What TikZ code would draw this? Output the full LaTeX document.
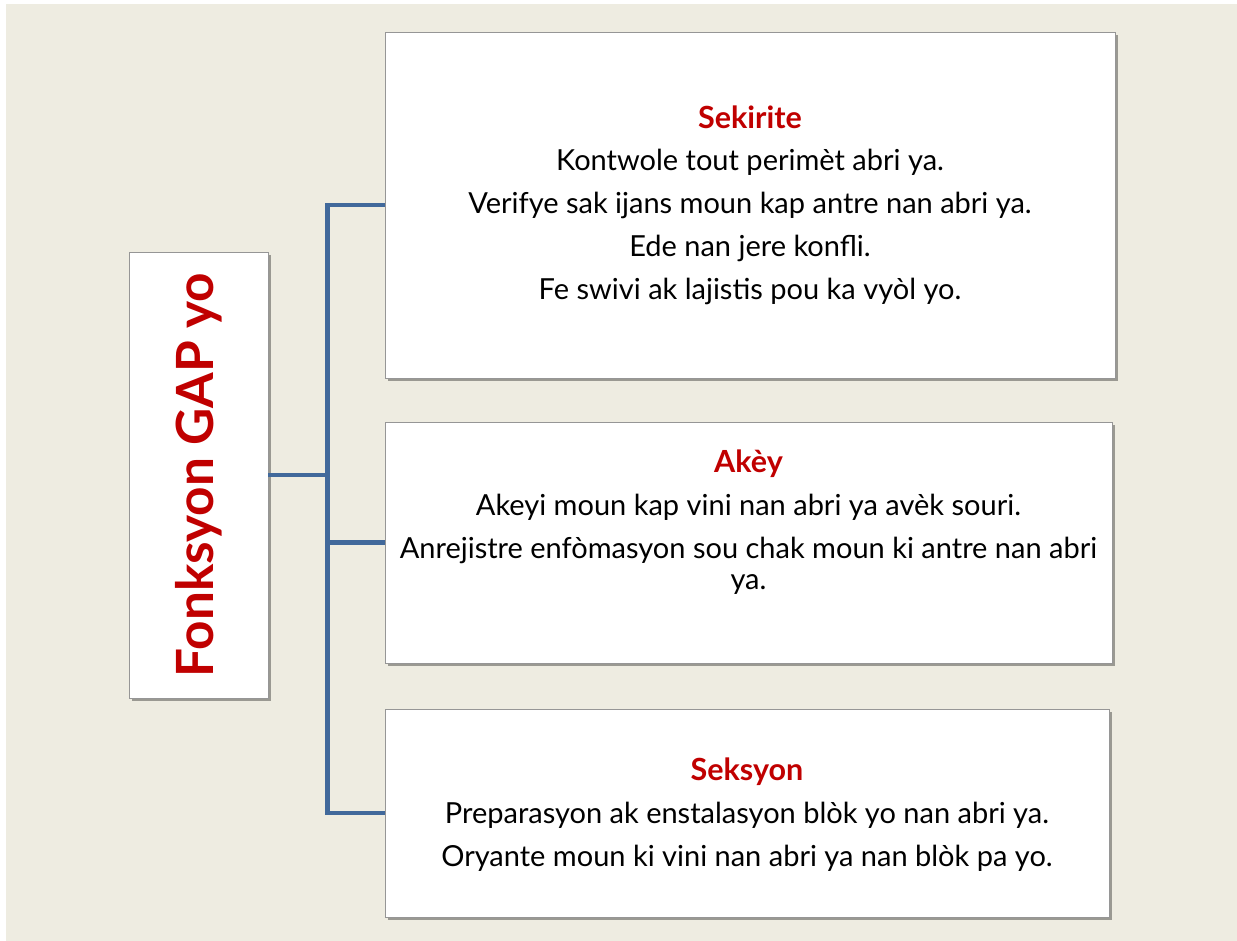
\documentclass[tikz,border=0pt]{standalone}
\usepackage{fontspec}
\setmainfont{Lato}
\usetikzlibrary{shadows}

\definecolor{paper}{RGB}{238,236,225}
\definecolor{linkblue}{RGB}{65,105,155}
\definecolor{headred}{RGB}{192,0,0}
\definecolor{boxline}{RGB}{150,150,150}

\tikzset{
  card/.style={draw=boxline, fill=white, line width=0.8pt, inner sep=0pt,
    drop shadow={shadow xshift=2.5pt, shadow yshift=-3pt, opacity=0.35, fill=black}},
  link/.style={draw=linkblue, line width=4.5pt},
  cardtext/.style={align=center, anchor=base, inner sep=0pt,
    font=\fontsize{29}{31}\selectfont},
}
\newcommand{\head}[1]{\textcolor{headred}{\fontsize{30.5}{31}\selectfont\bfseries #1}}

\begin{document}
\begin{tikzpicture}[x=1pt,y=-1pt]
  % page and backdrop
  \fill[white] (0,0) rectangle (1237,941);
  \fill[paper] (6,4) rectangle (1237,941);
  \useasboundingbox (0,0) rectangle (1237,941);

  % boxes
  \node[card, minimum width=139pt, minimum height=446pt] (gap) at (198.5,475) {};
  \node[card, minimum width=730pt, minimum height=346pt] (sekirite) at (750,205) {};
  \node[card, minimum width=727pt, minimum height=241pt] (akey) at (748.5,542.5) {};
  \node[card, minimum width=724pt, minimum height=208pt] (seksyon) at (747,813) {};

  % tree lines
  \draw[link] (gap.east) -- ++(59,0) coordinate (spine);
  \draw[link] (sekirite.west) -| (spine) |- (seksyon.west);
  \draw[link] (spine) |- (akey.west);

  % texts (base = last line)
  \node[rotate=90, inner sep=0pt, text=headred,
    font=\fontsize{51.3}{60}\bfseries\selectfont] (gaptitle) at (gap.center) {Fonksyon GAP yo};
  \node[cardtext] (sekiritetext) at (750,300) {\head{Sekirite}\\[12pt]
    Kontwole tout perimèt abri ya.\\[12pt]
    Verifye sak ijans moun kap antre nan abri ya.\\[12pt]
    Ede nan jere konfli.\\[12pt]
    Fe swivi ak lajistis pou ka vyòl yo.};
  \node[cardtext] (akeytext) at (748.5,589) {\head{Akèy}\\[12pt]
    Akeyi moun kap vini nan abri ya avèk souri.\\[12pt]
    Anrejistre enfòmasyon sou chak moun ki antre nan abri\\
    ya.};
  \node[cardtext] (seksyontext) at (747,866) {\head{Seksyon}\\[12pt]
    Preparasyon ak enstalasyon blòk yo nan abri ya.\\[12pt]
    Oryante moun ki vini nan abri ya nan blòk pa yo.};
\end{tikzpicture}
\end{document}
